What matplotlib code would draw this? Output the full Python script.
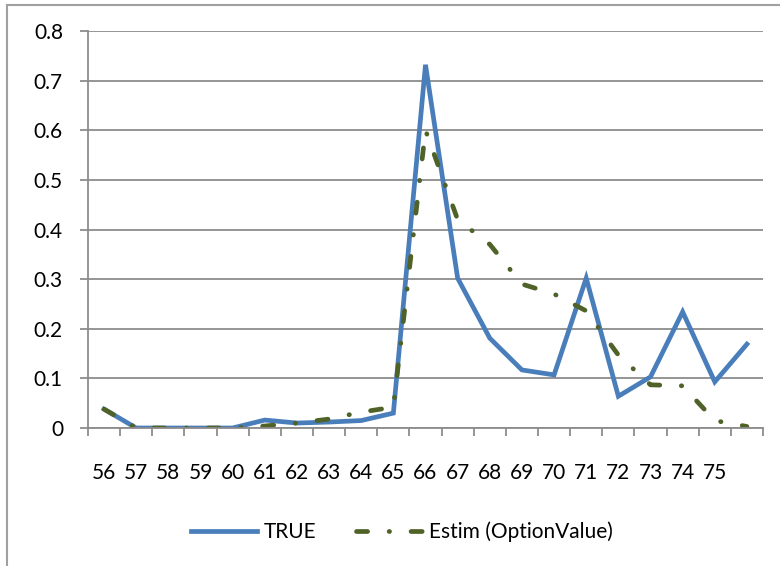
import matplotlib.pyplot as plt
from matplotlib.lines import Line2D

ages = ['56', '57', '58', '59', '60', '61', '62', '63', '64', '65',
        '66', '67', '68', '69', '70', '71', '72', '73', '74', '75', '']
true_vals = [0.038, 0.0, 0.0, 0.0, 0.0, 0.016, 0.01, 0.012, 0.015, 0.03,
             0.732, 0.302, 0.181, 0.117, 0.107, 0.302, 0.064, 0.103, 0.234, 0.093, 0.169]
estim_vals = [0.038, 0.0, 0.0, 0.0, 0.0, 0.004, 0.01, 0.018, 0.032, 0.042,
              0.60, 0.42, 0.37, 0.29, 0.27, 0.236, 0.147, 0.087, 0.085, 0.015, 0.003]

plt.rcParams['font.family'] = ['Lato', 'DejaVu Sans']
plt.rcParams['lines.scale_dashes'] = False

grey = '#8c8c8c'
fig = plt.figure(figsize=(7.8, 5.66), dpi=100)
ax = fig.add_axes([88 / 780, 1 - 428 / 566, 675 / 780, 397 / 566])

x = list(range(len(ages)))
ax.plot(x, true_vals, color='#4a7ebb', lw=3.4, label='TRUE', solid_joinstyle='miter')
ax.plot(x, estim_vals, color='#4f6228', lw=3.4, dash_capstyle='round',
        linestyle=(0, (8, 15.5, 0.3, 15.5)), label='Estim (OptionValue)')

ax.set_xlim(-0.5, len(ages) - 0.5)
ax.set_ylim(0, 0.8)
ax.set_yticks([0, 0.1, 0.2, 0.3, 0.4, 0.5, 0.6, 0.7, 0.8])
ax.set_yticklabels(['0', '0.1', '0.2', '0.3', '0.4', '0.5', '0.6', '0.7', '0.8'])
ax.yaxis.grid(True, color=grey, lw=1.3)
ax.set_axisbelow(True)

# category labels sit under the points, tick marks between categories
ax.set_xticks(x)
ax.set_xticklabels(ages)
ax.set_xticks([i - 0.5 for i in range(len(ages) + 1)], minor=True)
ax.tick_params(axis='x', which='major', length=0, pad=25, labelsize=15)
ax.tick_params(axis='x', which='minor', length=6, width=1.3, color=grey)
ax.tick_params(axis='y', length=6, width=1.3, color=grey, pad=12, labelsize=15)

for s in ['top', 'right']:
    ax.spines[s].set_visible(False)
for s in ['left', 'bottom']:
    ax.spines[s].set_color(grey)
    ax.spines[s].set_linewidth(1.3)

fig.legend(loc='center', bbox_to_anchor=(0.515, 1 - 532 / 566), ncol=2, frameon=False,
           fontsize=15, handlelength=3.2, columnspacing=1.9, handletextpad=0.3)

# outer chart frame
fig.add_artist(Line2D([7 / 780, 7 / 780], [0, 1 - 4.5 / 566], transform=fig.transFigure,
                      color='#a0a0a0', lw=1.5))
fig.add_artist(Line2D([7 / 780, 1], [1 - 4.5 / 566, 1 - 4.5 / 566], transform=fig.transFigure,
                      color='#a0a0a0', lw=1.5))

fig.savefig('out.png', dpi=100)
